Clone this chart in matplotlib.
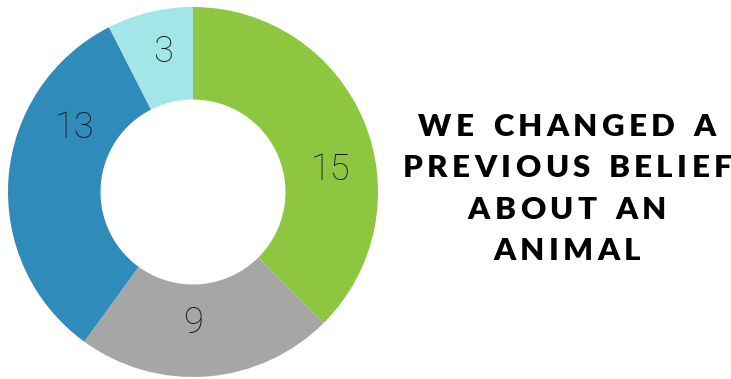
import matplotlib
matplotlib.use("Agg")
import matplotlib.pyplot as plt

values = [15, 9, 13, 3]
labels = ["15", "9", "13", "3"]
label_pos = [(0.745, 0.118), (0.0, -0.71), (-0.638, 0.346), (-0.162, 0.757)]
colors = ["#8DC63F", "#A6A6A6", "#2E8BBA", "#A2E6E8"]
title_lines = ["WE CHANGED A", "PREVIOUS BELIEF", "ABOUT AN", "ANIMAL"]

W, H = 731, 379
fig = plt.figure(figsize=(W / 100, H / 100), dpi=100)
ax = fig.add_axes([8 / W, 2 / H, 370 / W, 370 / H])
wedges, _ = ax.pie(values, colors=colors, startangle=90, counterclock=False,
                   radius=1.0, wedgeprops=dict(width=0.5, linewidth=0))
for lab, (lx, ly) in zip(labels, label_pos):
    ax.text(lx, ly, lab, fontsize=26, color="#1a1a1a", family="Roboto",
            fontweight="light", ha="center", va="center")
ax.set_xlim(-1, 1)
ax.set_ylim(-1, 1)
ax.set_aspect("equal")
ax.axis("off")

# Title with letter tracking
fig.canvas.draw()
renderer = fig.canvas.get_renderer()
fs = 22.5
fam = "Lato"
ys = [127, 168, 210, 251]
cx = 567
target_w = 329


def measure(line):
    widths = []
    for ch in line:
        t = fig.text(0, 0, "A" if ch == " " else ch, fontsize=fs, fontweight="heavy", family=fam)
        w = t.get_window_extent(renderer).width
        if ch == " ":
            w *= 0.45
        t.remove()
        widths.append(w)
    return widths


w2 = measure(title_lines[1])
tracking = (target_w - sum(w2)) / (len(title_lines[1]) - 1)

for line, yp in zip(title_lines, ys):
    widths = measure(line)
    total = sum(widths) + tracking * (len(line) - 1)
    x = cx - total / 2
    for ch, w in zip(line, widths):
        if ch != " ":
            fig.text(x / W, 1 - yp / H, ch, fontsize=fs, fontweight="heavy",
                     family=fam, ha="left", va="center", color="#000000")
        x += w + tracking

fig.savefig("out.png", dpi=100)
